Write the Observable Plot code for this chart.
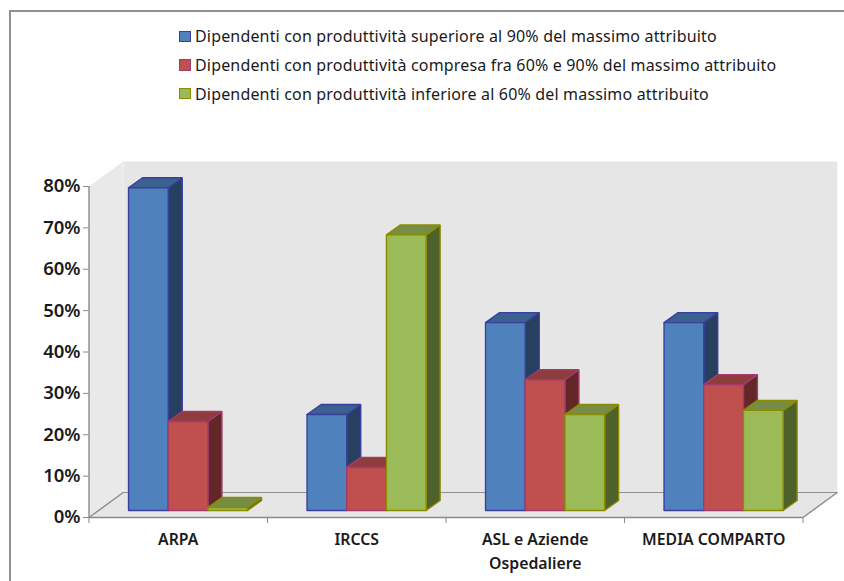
<!DOCTYPE html>
<html lang="it">
<head>
<meta charset="utf-8">
<script src="https://cdn.jsdelivr.net/npm/d3@7"></script>
<script src="https://cdn.jsdelivr.net/npm/@observablehq/plot@0.6"></script>
<style>
  html, body { margin: 0; padding: 0; background: #fff; }
  #frame { position: relative; width: 844px; height: 581px; overflow: hidden; font-family: "Noto Sans", sans-serif; }
  #border { position: absolute; left: 9px; top: 10px; width: 900px; height: 700px; border: 2px solid #909090; box-sizing: border-box; }
  #legend { position: absolute; left: 179px; top: 22px; }
  .row { display: flex; align-items: center; height: 28.7px; font-size: 16px; letter-spacing: 0.17px; color: #1a1a1a; white-space: nowrap; }
  .swatch { width: 12px; height: 11.5px; box-sizing: border-box; border: 1.5px solid; margin-right: 4px; }
  #chart { position: absolute; left: 0; top: 150px; }
</style>
</head>
<body>
<div id="frame">
  <div id="border"></div>
  <div id="legend"></div>
  <div id="chart"></div>
</div>
<script>
// Share of employees per productivity band, in percent
const categories = ["ARPA", "IRCCS", "ASL e Aziende\nOspedaliere", "MEDIA COMPARTO"];
const seriesNames = [
  "Dipendenti con produttività superiore al 90% del massimo attribuito",
  "Dipendenti con produttività compresa fra 60% e 90% del massimo attribuito",
  "Dipendenti con produttività inferiore al 60% del massimo attribuito"
];
const alta = [78, 23.2, 45.4, 45.4];
const media = [21.5, 10.4, 31.6, 30.4];
const bassa = [0.7, 66.6, 23.2, 24.2];
const seriesValues = [alta, media, bassa];
const yTicks = [0, 10, 20, 30, 40, 50, 60, 70, 80];

// Colours of each series: front, side, top and outline of a bar
const palette = [
  {front: "#4f81bd", side: "#274060", top: "#3b618f", line: "#3a3fa0"},
  {front: "#c0504d", side: "#622726", top: "#8f3c3c", line: "#a33b6e"},
  {front: "#9bbb59", side: "#4f612b", top: "#758d44", line: "#8c8c00"}
];

// Projection offsets of the pseudo-3D scene, in scale units
const wallDX = 0.1916, wallDY = 6.04;
const barDX = 0.0784, barDY = 2.42;
const barInset = 0.2215, barWidth = 0.2224, barBase = 1.7;

// Closed outline helper: every polygon becomes one filled line
const poly = (pts) => [...pts, pts[0]].map(([x, y]) => ({x, y}));
const face = (pts, options) => Plot.line(poly(pts), {x: "x", y: "y", curve: "linear", strokeLinejoin: "miter", ...options});

const n = categories.length;
const marks = [
  // back wall, side wall and floor
  face([[wallDX, wallDY], [n + wallDX, wallDY], [n + wallDX, 80 + wallDY], [wallDX, 80 + wallDY]], {fill: "#e6e6e6", stroke: "none"}),
  face([[0, 0], [wallDX, wallDY], [wallDX, 80 + wallDY], [0, 80]], {fill: "#e9e9e9", stroke: "none"}),
  face([[0, 0], [n, 0], [n + wallDX, wallDY], [wallDX, wallDY]], {fill: "#e6e6e6", stroke: "none"}),
  Plot.ruleX([wallDX], {y1: wallDY, y2: 80 + wallDY, stroke: "#efefef"}),
  Plot.ruleY([wallDY], {x1: wallDX, x2: n + wallDX, stroke: "#8f8f8f", strokeWidth: 1.1}),
  Plot.line([{x: 0, y: 0}, {x: wallDX, y: wallDY}], {x: "x", y: "y", stroke: "#8f8f8f"}),
  Plot.line([{x: n, y: 0}, {x: n + wallDX, y: wallDY}], {x: "x", y: "y", stroke: "#8f8f8f"}),
  Plot.ruleY([0], {x1: 0, x2: n, stroke: "#8a8a8a", strokeWidth: 1.4}),
  Plot.ruleX([0], {y1: 0, y2: 80, stroke: "#8a8a8a", strokeWidth: 1.4})
];

// Bars go in drawing order so each front covers the side of its left neighbour
categories.forEach((_, c) => {
  seriesValues.forEach((values, s) => {
    const x1 = c + barInset + s * barWidth;
    const x2 = x1 + barWidth;
    const y1 = barBase;
    const y2 = barBase + values[c];
    const col = palette[s];
    const common = {stroke: col.line, strokeWidth: 1.4};
    marks.push(
      face([[x2, y1], [x2 + barDX, y1 + barDY], [x2 + barDX, y2 + barDY], [x2, y2]], {fill: col.side, ...common}),
      face([[x1, y2], [x2, y2], [x2 + barDX, y2 + barDY], [x1 + barDX, y2 + barDY]], {fill: col.top, ...common}),
      face([[x1, y1], [x2, y1], [x2, y2], [x1, y2]], {fill: col.front, ...common})
    );
  });
});

const chart = Plot.plot({
  width: 844,
  height: 431,
  marginLeft: 88.5,
  marginRight: 41.5,
  marginTop: 36,
  marginBottom: 64,
  style: {background: "transparent", overflow: "visible", fontFamily: "'Noto Sans', sans-serif"},
  x: {type: "linear", domain: [0, n], axis: null},
  y: {domain: [0, 80], axis: null},
  marks: [
    ...marks,
    Plot.axisY({ticks: yTicks, tickFormat: (d) => d + "%", tickSize: 5.5, tickPadding: 3, label: null,
      stroke: "#8a8a8a", fill: "#1a1a1a", fontSize: 18.5, fontWeight: 600}),
    Plot.axisX({ticks: d3.range(n + 1), tickFormat: () => "", tickSize: 6, label: null, stroke: "#8a8a8a"}),
    Plot.text(categories, {
      x: (_, i) => i + 0.5,
      y: 0,
      text: (d) => d,
      dy: 10,
      frameAnchor: "top",
      lineAnchor: "top",
      lineHeight: 1.52,
      fontSize: 15.8,
      fontWeight: 600,
      fill: "#1a1a1a"
    })
  ]
});
document.getElementById("chart").append(chart);

// Legend above the plot
const legend = document.getElementById("legend");
seriesNames.forEach((name, i) => {
  const row = document.createElement("div");
  row.className = "row";
  const swatch = document.createElement("span");
  swatch.className = "swatch";
  swatch.style.background = palette[i].front;
  swatch.style.borderColor = palette[i].line;
  const label = document.createElement("span");
  label.textContent = name;
  row.append(swatch, label);
  legend.append(row);
});
</script>
</body>
</html>
